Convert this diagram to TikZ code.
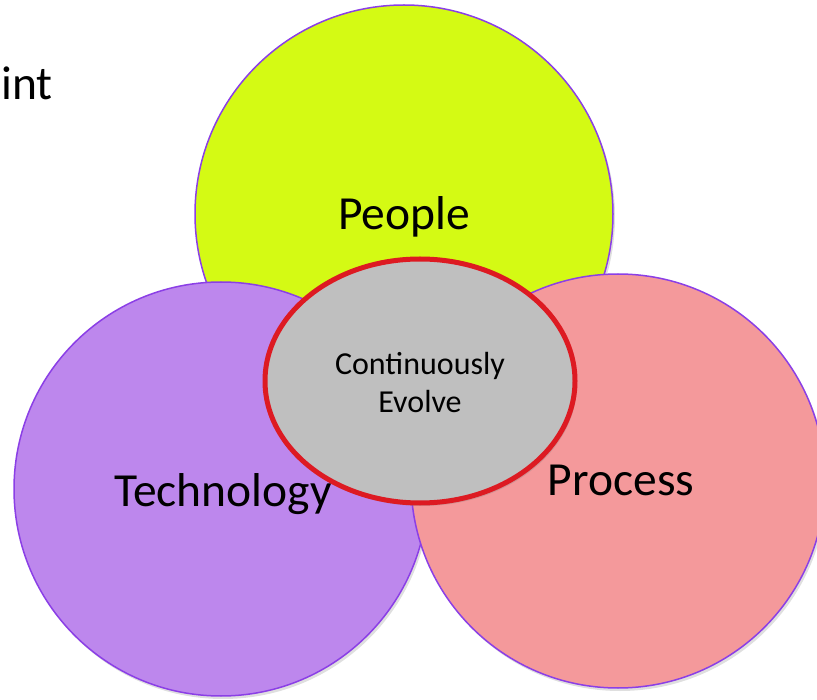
\documentclass[tikz,border=0pt]{standalone}
\usepackage{fontspec}
\setmainfont{Carlito}
\usetikzlibrary{calc,shadows}

\definecolor{peoplefill}{RGB}{212,250,20}
\definecolor{techfill}{RGB}{189,135,237}
\definecolor{procfill}{RGB}{244,153,155}
\definecolor{evolvefill}{RGB}{191,191,191}
\definecolor{evolveline}{RGB}{221,26,34}
\definecolor{ringline}{RGB}{139,63,230}

\tikzset{
  ring/.style={draw=ringline, line width=1.5pt,
    drop shadow={opacity=.25, shadow xshift=2pt, shadow yshift=-3pt}},
  big/.style={font=\fontsize{47.5}{52}\selectfont, inner sep=0pt, anchor=base},
}

\begin{document}
\begin{tikzpicture}[x=1pt, y=-1pt]
\useasboundingbox (0,0) rectangle (817,700);
\clip (0,0) rectangle (817,700);

\node[big, anchor=base west] (title) at (1,100) {int};

\coordinate (people) at (404,214);
\filldraw[ring, fill=peoplefill] (people) circle [radius=209pt];
\node[big] (peoplelabel) at ($(people) + (0,16)$) {People};

\coordinate (tech) at (221,489);
\filldraw[ring, fill=techfill] (tech) circle [radius=207pt];
\node[big] (techlabel) at ($(tech) + (2,18)$) {Technology};

\coordinate (proc) at (618,481);
\filldraw[ring, fill=procfill] (proc) circle [radius=207pt];
\node[big] (proclabel) at ($(proc) + (3,15)$) {Process};

\coordinate (evolve) at (420,381);
\filldraw[draw=evolveline, line width=5pt, fill=evolvefill,
  drop shadow={opacity=.3, shadow xshift=2pt, shadow yshift=-3pt}]
  (evolve) ellipse [x radius=155pt, y radius=122pt];
\node[align=center, font=\fontsize{32}{38}\selectfont] (evolvelabel)
  at ($(evolve) + (0,2)$) {Continuously\\Evolve};
\end{tikzpicture}
\end{document}
